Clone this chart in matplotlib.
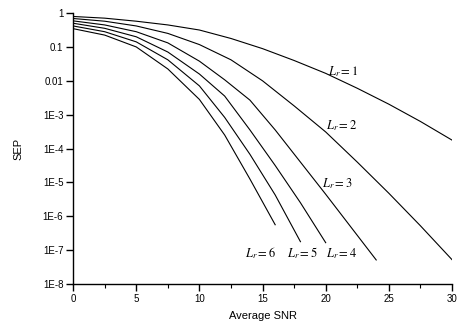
import matplotlib
matplotlib.use("Agg")
import matplotlib.pyplot as plt
import numpy as np
from matplotlib.ticker import FixedLocator, MultipleLocator

plt.rcParams['font.family'] = ['Liberation Sans', 'DejaVu Sans']
plt.rcParams['mathtext.fontset'] = 'stix'

# SEP curves (log10 of SEP)
snr_1 = [0, 2.5, 5, 7.5, 10, 12.5, 15, 17.5, 20, 22.5, 25, 27.5, 30]
sep_1 = [-0.10, -0.15, -0.24, -0.35, -0.50, -0.75, -1.05, -1.40, -1.78, -2.22, -2.69, -3.20, -3.75]
snr_2 = [0, 2.5, 5, 7.5, 10, 12.5, 15, 17.5, 20, 22.5, 25, 27.5, 30]
sep_2 = [-0.16, -0.24, -0.38, -0.60, -0.93, -1.38, -2.00, -2.74, -3.51, -4.40, -5.32, -6.28, -7.28]
snr_3 = [0, 2.5, 5, 7.5, 10, 12, 14, 16, 18, 20, 22, 24]
sep_3 = [-0.23, -0.35, -0.55, -0.88, -1.42, -1.97, -2.57, -3.45, -4.40, -5.35, -6.32, -7.29]
snr_4 = [0, 2.5, 5, 7.5, 10, 12, 14, 16, 18, 20]
sep_4 = [-0.30, -0.45, -0.70, -1.15, -1.80, -2.45, -3.45, -4.50, -5.60, -6.78]
snr_5 = [0, 2.5, 5, 7.5, 10, 12, 14, 16, 18]
sep_5 = [-0.38, -0.55, -0.85, -1.38, -2.15, -3.08, -4.17, -5.37, -6.75]
snr_6 = [0, 2.5, 5, 7.5, 10, 12, 14, 16]
sep_6 = [-0.46, -0.65, -1.00, -1.65, -2.55, -3.60, -4.90, -6.25]

curves = [(snr_1, sep_1), (snr_2, sep_2), (snr_3, sep_3),
          (snr_4, sep_4), (snr_5, sep_5), (snr_6, sep_6)]

y_ticks = [1, 0.1, 0.01, 1e-3, 1e-4, 1e-5, 1e-6, 1e-7, 1e-8]
y_tick_labels = ['1', '0.1', '0.01', '1E-3', '1E-4', '1E-5', '1E-6', '1E-7', '1E-8']

fig = plt.figure(figsize=(4.57, 3.27), dpi=100)
ax = fig.add_axes([0.160, 0.1315, 0.829, 0.8285])

for x, ly in curves:
    ax.plot(x, 10 ** np.array(ly), color='black', lw=0.8)

ax.set_yscale('log')
ax.set_xlim(0, 30)
ax.set_ylim(1e-8, 1)
ax.yaxis.set_major_locator(FixedLocator(y_ticks))
ax.set_yticklabels(y_tick_labels)
ax.yaxis.set_minor_locator(FixedLocator([]))
ax.xaxis.set_major_locator(MultipleLocator(5))
ax.xaxis.set_minor_locator(MultipleLocator(2.5))

for s in ['top', 'right']:
    ax.spines[s].set_visible(False)
for s in ['left', 'bottom']:
    ax.spines[s].set_linewidth(1.0)

ax.tick_params(which='major', direction='out', length=5, width=1.0, labelsize=7, pad=2)
ax.tick_params(which='minor', direction='out', length=3, width=0.8)

ax.set_xlabel('Average SNR', fontsize=8, labelpad=5)
ax.set_ylabel('SEP', fontsize=8, labelpad=14)

lab_kw = dict(fontsize=9, color='black', ha='left', va='center')
ax.text(20.2, 10 ** -1.73, r'$L_r = 1$', **lab_kw)
ax.text(20.0, 10 ** -3.32, r'$L_r = 2$', **lab_kw)
ax.text(19.7, 10 ** -5.05, r'$L_r = 3$', **lab_kw)
ax.text(13.6, 10 ** -7.1, r'$L_r = 6$', **lab_kw)
ax.text(16.9, 10 ** -7.1, r'$L_r = 5$', **lab_kw)
ax.text(20.0, 10 ** -7.1, r'$L_r = 4$', **lab_kw)

fig.savefig('out.png', dpi=100)
